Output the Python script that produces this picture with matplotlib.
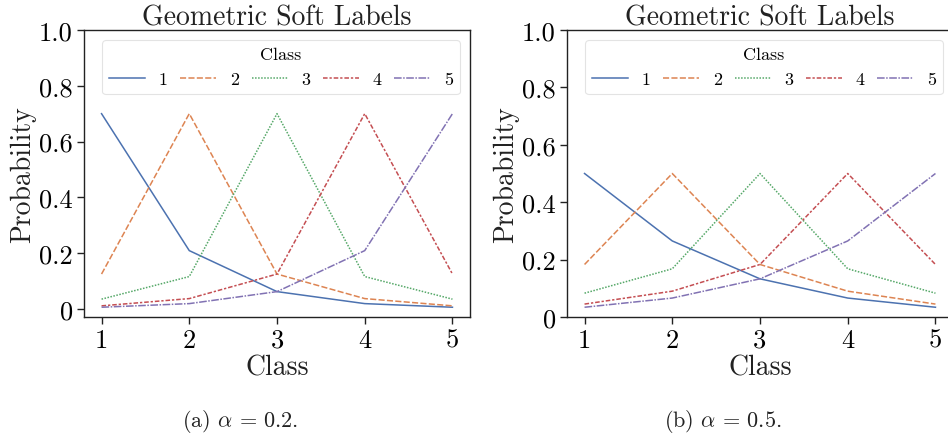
import matplotlib
matplotlib.use("Agg")
import matplotlib.pyplot as plt

plt.rcParams['font.family'] = ['cmr10', 'DejaVu Serif']
plt.rcParams['mathtext.fontset'] = 'cm'
plt.rcParams['axes.unicode_minus'] = False
plt.rcParams['axes.formatter.use_mathtext'] = True

classes = [1, 2, 3, 4, 5]
series_names = ['1', '2', '3', '4', '5']

# alpha = 0.2
left_vals = [
    [0.70, 0.209, 0.062, 0.019, 0.006],
    [0.125, 0.70, 0.125, 0.037, 0.011],
    [0.035, 0.116, 0.70, 0.116, 0.035],
    [0.011, 0.037, 0.125, 0.70, 0.125],
    [0.006, 0.019, 0.062, 0.209, 0.70],
]
# alpha = 0.5
right_vals = [
    [0.50, 0.265, 0.133, 0.066, 0.034],
    [0.183, 0.50, 0.183, 0.090, 0.045],
    [0.083, 0.168, 0.50, 0.168, 0.083],
    [0.045, 0.090, 0.183, 0.50, 0.183],
    [0.034, 0.066, 0.133, 0.265, 0.50],
]
yticks = [0, 0.2, 0.4, 0.6, 0.8, 1.0]
ytick_labels = ['0', '0.2', '0.4', '0.6', '0.8', '1.0']
captions = [r'(a) $\alpha\,=\,0.2$.', r'(b) $\alpha\,=\,0.5$.']

colors = ['#4C72B0', '#DD8452', '#55A868', '#C44E52', '#8172B3']
dashes = [None, (4, 1.5), (1, 1), (3, 1.25, 1.5, 1.25), (5, 1, 1, 1)]

W, H = 948, 439
fig = plt.figure(figsize=(W / 100, H / 100), dpi=100)

axes_px = [(84, 31, 470, 318), (567, 31, 953, 318)]
ylims = [(-0.029, 1.0), (0.0, 1.0)]
cap_x = [240, 723]

for i, (vals, (l, t, r, b)) in enumerate(zip([left_vals, right_vals], axes_px)):
    ax = fig.add_axes([l / W, 1 - b / H, (r - l) / W, (b - t) / H])
    for k, (name, v) in enumerate(zip(series_names, vals)):
        line, = ax.plot(classes, v, color=colors[k], lw=1.1, label=name)
        if dashes[k] is not None:
            line.set_dashes(dashes[k])
    ax.set_xlim(0.8, 5.2)
    ax.set_ylim(*ylims[i])
    ax.set_xticks(classes)
    ax.set_xticklabels([str(c) for c in classes])
    ax.set_yticks(yticks)
    ax.set_yticklabels(ytick_labels)
    ax.tick_params(labelsize=19, length=5, width=1, color='#222222', pad=3)
    for s in ax.spines.values():
        s.set_linewidth(1.0)
        s.set_color('#222222')
    ax.set_title('Geometric Soft Labels', fontsize=20, pad=3, color='#222222')
    ax.set_xlabel('Class', fontsize=20, labelpad=2, color='#222222')
    ax.set_ylabel('Probability', fontsize=20, labelpad=2, color='#222222')
    leg = ax.legend(title='Class', ncol=5, loc='upper right', fontsize=13,
                    title_fontsize=13, frameon=True, fancybox=True,
                    handlelength=2.0, handletextpad=0.75, columnspacing=0.7,
                    borderaxespad=0.55, borderpad=0.4)
    leg.get_frame().set_edgecolor('#dddddd')
    leg.get_frame().set_linewidth(0.8)
    fig.text(cap_x[i] / W, 1 - 422 / H, captions[i], fontsize=16,
             ha='center', va='center', color='#222222')

fig.savefig('out.png', dpi=100)
